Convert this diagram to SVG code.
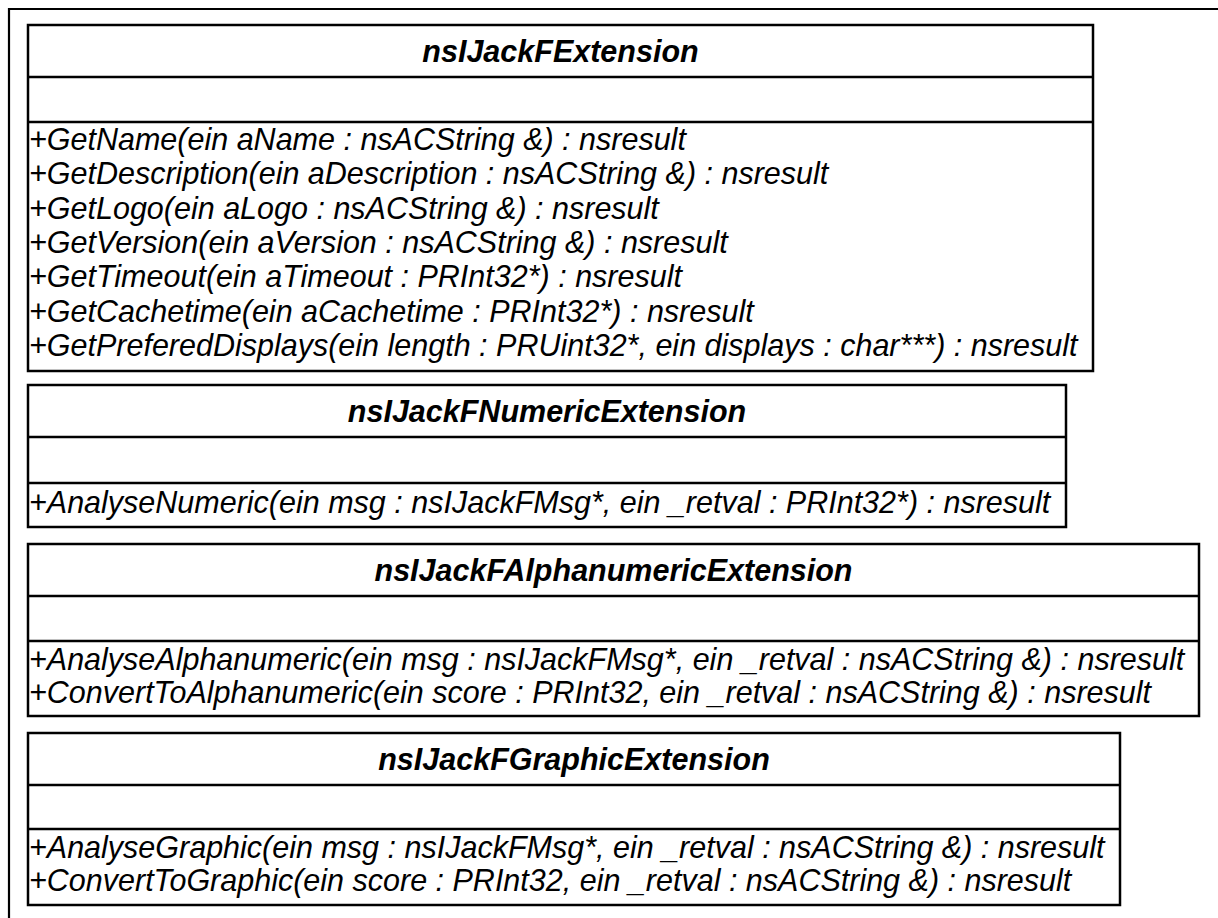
<svg xmlns="http://www.w3.org/2000/svg" width="1218" height="918" viewBox="0 0 1218 918">
  <style>
    .frame { fill: none; stroke: #000; stroke-width: 2.2; }
    .box { fill: #fff; stroke: #000; stroke-width: 2.5; }
    .sep { stroke: #000; stroke-width: 2.5; }
    .title { font-family: "Liberation Sans", Arial, sans-serif; font-size: 30.5px; font-weight: bold; font-style: italic; text-anchor: middle; fill: #000; }
    .op { font-family: "Liberation Sans", Arial, sans-serif; font-size: 30.5px; font-style: italic; fill: #000; }
  </style>
  <rect width="1218" height="918" fill="#fff"/>
  <!-- diagram frame (open on right and bottom) -->
  <path class="frame" d="M9,918 V9 H1218"/>

  <g id="nsIJackFExtension">
    <rect class="box" x="28" y="25" width="1065" height="346"/>
    <line class="sep" x1="28" y1="77" x2="1093" y2="77"/>
    <line class="sep" x1="28" y1="122" x2="1093" y2="122"/>
    <text class="title" x="560.5" y="62">nsIJackFExtension</text>
    <text class="op" x="29" y="150">+GetName(ein aName : nsACString &amp;) : nsresult</text>
    <text class="op" x="29" y="184.3">+GetDescription(ein aDescription : nsACString &amp;) : nsresult</text>
    <text class="op" x="29" y="218.6">+GetLogo(ein aLogo : nsACString &amp;) : nsresult</text>
    <text class="op" x="29" y="252.9">+GetVersion(ein aVersion : nsACString &amp;) : nsresult</text>
    <text class="op" x="29" y="287.2">+GetTimeout(ein aTimeout : PRInt32*) : nsresult</text>
    <text class="op" x="29" y="321.5">+GetCachetime(ein aCachetime : PRInt32*) : nsresult</text>
    <text class="op" x="29" y="355.8">+GetPreferedDisplays(ein length : PRUint32*, ein displays : char***) : nsresult</text>
  </g>

  <g id="nsIJackFNumericExtension">
    <rect class="box" x="28" y="385" width="1038" height="142"/>
    <line class="sep" x1="28" y1="437" x2="1066" y2="437"/>
    <line class="sep" x1="28" y1="483" x2="1066" y2="483"/>
    <text class="title" x="547" y="422">nsIJackFNumericExtension</text>
    <text class="op" x="29" y="513">+AnalyseNumeric(ein msg : nsIJackFMsg*, ein _retval : PRInt32*) : nsresult</text>
  </g>

  <g id="nsIJackFAlphanumericExtension">
    <rect class="box" x="28" y="544" width="1171" height="172"/>
    <line class="sep" x1="28" y1="596" x2="1199" y2="596"/>
    <line class="sep" x1="28" y1="641" x2="1199" y2="641"/>
    <text class="title" x="613.5" y="581">nsIJackFAlphanumericExtension</text>
    <text class="op" x="29" y="670">+AnalyseAlphanumeric(ein msg : nsIJackFMsg*, ein _retval : nsACString &amp;) : nsresult</text>
    <text class="op" x="29" y="703">+ConvertToAlphanumeric(ein score : PRInt32, ein _retval : nsACString &amp;) : nsresult</text>
  </g>

  <g id="nsIJackFGraphicExtension">
    <rect class="box" x="28" y="733" width="1092" height="172"/>
    <line class="sep" x1="28" y1="785" x2="1120" y2="785"/>
    <line class="sep" x1="28" y1="829" x2="1120" y2="829"/>
    <text class="title" x="574" y="770">nsIJackFGraphicExtension</text>
    <text class="op" x="29" y="858">+AnalyseGraphic(ein msg : nsIJackFMsg*, ein _retval : nsACString &amp;) : nsresult</text>
    <text class="op" x="29" y="891">+ConvertToGraphic(ein score : PRInt32, ein _retval : nsACString &amp;) : nsresult</text>
  </g>

  <g id="connectors"/>
</svg>
